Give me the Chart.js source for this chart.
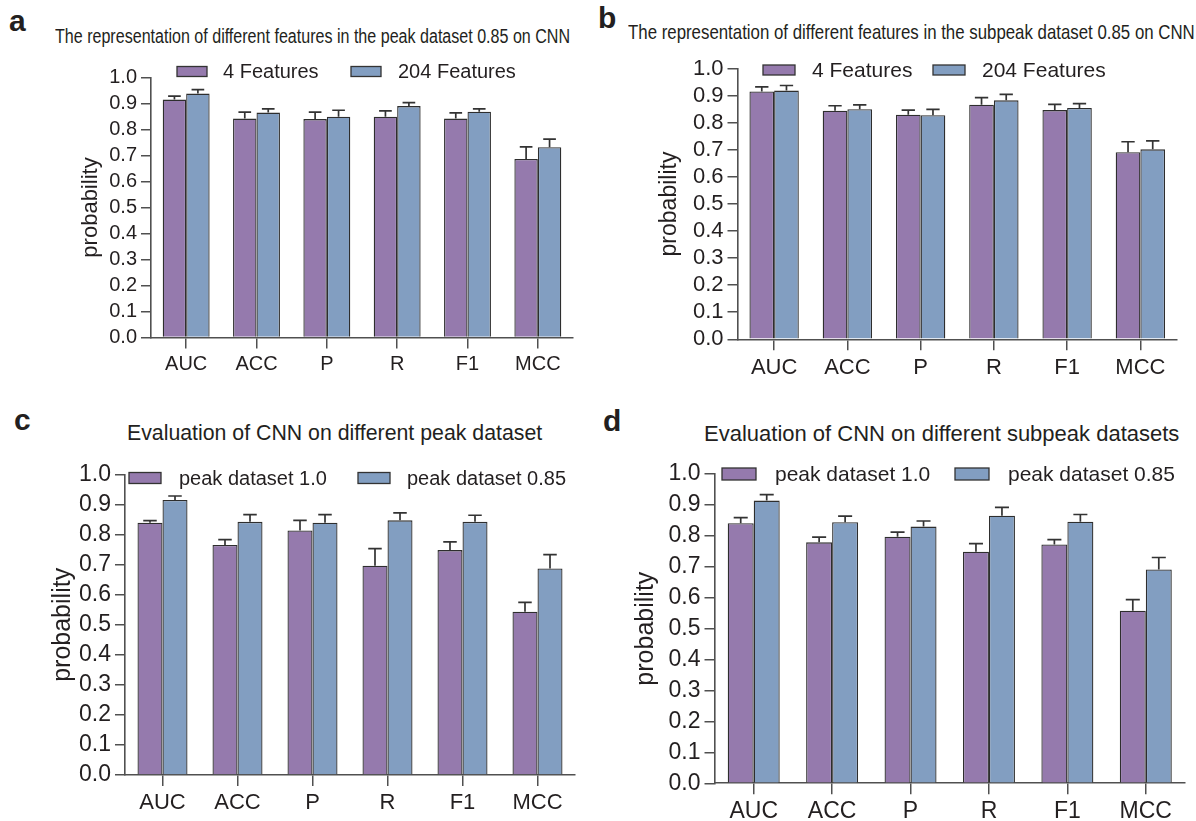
<!DOCTYPE html>
<html>
<head>
<meta charset="utf-8">
<script src="https://cdn.jsdelivr.net/npm/chart.js@4.4.1/dist/chart.umd.min.js"></script>
<style>
  body { margin:0; background:#fff; width:1196px; height:821px; position:relative; overflow:hidden;
         font-family:"Liberation Sans", Arial, sans-serif; color:#231f20; }
  canvas { position:absolute; }
  .lab { position:absolute; font-weight:bold; line-height:1; }
  .ttl { position:absolute; white-space:nowrap; line-height:1; transform-origin:left top; }
</style>
</head>
<body>
<div class="lab" style="left:9px;top:6px;font-size:30px">a</div>
<div class="ttl" style="left:55px;top:27px;font-size:19.6px;transform:scaleX(0.82)">The representation of different features in the peak dataset 0.85 on CNN</div>
<div class="lab" style="left:598px;top:3px;font-size:30px">b</div>
<div class="ttl" style="left:628px;top:22px;font-size:20.3px;transform:scaleX(0.83)">The representation of different features in the subpeak dataset 0.85 on CNN</div>
<div class="lab" style="left:14px;top:405px;font-size:30px">c</div>
<div class="ttl" style="left:127px;top:423px;font-size:21.3px">Evaluation of CNN on different peak dataset</div>
<div class="lab" style="left:603px;top:406px;font-size:30px">d</div>
<div class="ttl" style="left:704px;top:423px;font-size:22px">Evaluation of CNN on different subpeak datasets</div>

<canvas id="ca"></canvas>
<canvas id="cb"></canvas>
<canvas id="cc"></canvas>
<canvas id="cd"></canvas>

<script>
// metrics on the x axis
const categories = ['AUC', 'ACC', 'P', 'R', 'F1', 'MCC'];
const yTicks = [0, 0.1, 0.2, 0.3, 0.4, 0.5, 0.6, 0.7, 0.8, 0.9, 1.0];

// a: peak dataset 0.85, 4 vs 204 features
const peakFeat4 = [0.915, 0.842, 0.840, 0.849, 0.842, 0.687];
const peakFeat4Sd = [0.013, 0.025, 0.027, 0.023, 0.022, 0.046];
const peakFeat204 = [0.938, 0.865, 0.849, 0.890, 0.868, 0.732];
const peakFeat204Sd = [0.015, 0.014, 0.025, 0.013, 0.011, 0.031];

// b: subpeak dataset 0.85, 4 vs 204 features
const subFeat4 = [0.916, 0.845, 0.830, 0.867, 0.847, 0.691];
const subFeat4Sd = [0.017, 0.018, 0.017, 0.026, 0.021, 0.039];
const subFeat204 = [0.919, 0.850, 0.828, 0.883, 0.855, 0.702];
const subFeat204Sd = [0.019, 0.016, 0.022, 0.022, 0.016, 0.031];

// c: CNN on peak datasets
const peakDs10 = [0.840, 0.766, 0.814, 0.697, 0.749, 0.544];
const peakDs10Sd = [0.007, 0.018, 0.034, 0.057, 0.027, 0.031];
const peakDs085 = [0.916, 0.843, 0.840, 0.848, 0.843, 0.688];
const peakDs085Sd = [0.013, 0.024, 0.027, 0.025, 0.022, 0.046];

// d: CNN on subpeak datasets
const subDs10 = [0.841, 0.779, 0.797, 0.749, 0.772, 0.558];
const subDs10Sd = [0.018, 0.017, 0.015, 0.026, 0.016, 0.036];
const subDs085 = [0.914, 0.844, 0.830, 0.865, 0.846, 0.691];
const subDs085Sd = [0.019, 0.020, 0.018, 0.027, 0.023, 0.039];

const PURPLE = '#957aad';
const BLUE = '#829ec1';
const INK = '#231f20';
const AXIS = '#505050';
const FONT = '"Liberation Sans", Arial, sans-serif';

// upward-only error bars, like the prism style plots
const errorBars = {
  id: 'errorBars',
  afterDatasetsDraw(chart) {
    const ctx = chart.ctx;
    const y = chart.scales.y;
    chart.data.datasets.forEach((ds, di) => {
      chart.getDatasetMeta(di).data.forEach((bar, i) => {
        const top = y.getPixelForValue(ds.data[i] + ds.sd[i]);
        const half = bar.width * 0.27;
        ctx.save();
        ctx.strokeStyle = '#333';
        ctx.lineWidth = 1.7;
        ctx.beginPath();
        ctx.moveTo(bar.x, bar.y);
        ctx.lineTo(bar.x, top);
        ctx.moveTo(bar.x - half, top);
        ctx.lineTo(bar.x + half, top);
        ctx.stroke();
        ctx.restore();
      });
    });
  }
};

// legend that sits on top of the plot, drawn from dataset labels/colours
const boxLegend = {
  id: 'boxLegend',
  afterDraw(chart, args, o) {
    const ctx = chart.ctx;
    ctx.save();
    ctx.font = o.fontSize + 'px ' + FONT;
    ctx.textBaseline = 'middle';
    chart.data.datasets.forEach((ds, i) => {
      const bx = o.boxX[i];
      ctx.fillStyle = ds.backgroundColor;
      ctx.fillRect(bx, o.y - o.boxH / 2, o.boxW, o.boxH);
      ctx.strokeStyle = '#333';
      ctx.lineWidth = 1.3;
      ctx.strokeRect(bx, o.y - o.boxH / 2, o.boxW, o.boxH);
      ctx.fillStyle = INK;
      ctx.fillText(ds.label, o.textX[i], o.y + 1);
    });
    ctx.restore();
  }
};

function panel(id, g, s1, s2) {
  const cv = document.getElementById(id);
  cv.width = g.cw; cv.height = g.ch;
  cv.style.left = g.cx + 'px'; cv.style.top = g.cy + 'px';
  cv.style.width = g.cw + 'px'; cv.style.height = g.ch + 'px';
  const titleLH = g.titleFont * 1.2;
  const scaleLeft = g.yTitleX - 4 - titleLH / 2;
  const yWidth = g.axisL - scaleLeft;
  const xHeight = 48;
  new Chart(cv, {
    type: 'bar',
    data: {
      labels: categories,
      datasets: [
        { label: s1.label, data: s1.data, sd: s1.sd, backgroundColor: PURPLE, borderColor: '#2e2e2e', borderWidth: 1.3 },
        { label: s2.label, data: s2.data, sd: s2.sd, backgroundColor: BLUE, borderColor: '#2e2e2e', borderWidth: 1.3 }
      ]
    },
    options: {
      responsive: false,
      animation: false,
      devicePixelRatio: 1,
      categoryPercentage: g.catPct,
      barPercentage: 1.0,
      layout: {
        padding: {
          left: scaleLeft - g.cx,
          top: g.axisT - g.cy,
          right: g.cx + g.cw - g.axisR,
          bottom: g.cy + g.ch - g.axisB - xHeight
        }
      },
      plugins: {
        legend: { display: false },
        tooltip: { enabled: false },
        boxLegend: {
          y: g.leg.y - g.cy,
          boxX: g.leg.boxX.map(v => v - g.cx),
          textX: g.leg.textX.map(v => v - g.cx),
          boxW: g.leg.boxW, boxH: g.leg.boxH, fontSize: g.leg.font
        }
      },
      scales: {
        x: {
          offset: true,
          afterFit(s) { s.height = xHeight; },
          grid: { display: true, drawOnChartArea: false, offset: false, tickLength: 11, color: AXIS, lineWidth: 1.5 },
          border: { display: true, color: AXIS, width: 1.6 },
          ticks: { color: INK, padding: 4, autoSkip: false, maxRotation: 0, font: { family: FONT, size: g.xFont } }
        },
        y: {
          min: 0, max: 1,
          afterFit(s) { s.width = yWidth; },
          afterBuildTicks(s) { s.ticks = yTicks.map(v => ({ value: v })); },
          grid: { display: true, drawOnChartArea: false, tickLength: 10, color: AXIS, lineWidth: 1.5 },
          border: { display: true, color: AXIS, width: 1.6 },
          ticks: { color: INK, padding: 4, autoSkip: false, font: { family: FONT, size: g.yFont }, callback: v => v.toFixed(1) },
          title: { display: true, text: 'probability', color: INK, padding: 4, font: { family: FONT, size: g.titleFont } }
        }
      }
    },
    plugins: [errorBars, boxLegend]
  });
}

panel('ca',
  { cx: 0, cy: 50, cw: 598, ch: 345, axisL: 151, axisR: 573, axisT: 77.5, axisB: 337.5,
    yTitleX: 91, titleFont: 22, yFont: 20, xFont: 20, catPct: 0.667,
    leg: { y: 71.5, boxX: [177, 351], textX: [223, 398], boxW: 30, boxH: 10, font: 20 } },
  { label: '4 Features', data: peakFeat4, sd: peakFeat4Sd },
  { label: '204 Features', data: peakFeat204, sd: peakFeat204Sd });

panel('cb',
  { cx: 598, cy: 50, cw: 598, ch: 345, axisL: 737.5, axisR: 1177, axisT: 68.7, axisB: 339.3,
    yTitleX: 670, titleFont: 23, yFont: 22, xFont: 22, catPct: 0.674,
    leg: { y: 70, boxX: [763, 933], textX: [812, 982], boxW: 32, boxH: 10, font: 21 } },
  { label: '4 Features', data: subFeat4, sd: subFeat4Sd },
  { label: '204 Features', data: subFeat204, sd: subFeat204Sd });

panel('cc',
  { cx: 0, cy: 455, cw: 598, ch: 366, axisL: 125, axisR: 575, axisT: 474.7, axisB: 775,
    yTitleX: 63, titleFont: 25, yFont: 23, xFont: 22, catPct: 0.667,
    leg: { y: 478, boxX: [129, 358], textX: [179, 407], boxW: 32, boxH: 11, font: 20 } },
  { label: 'peak dataset 1.0', data: peakDs10, sd: peakDs10Sd },
  { label: 'peak dataset 0.85', data: peakDs085, sd: peakDs085Sd });

panel('cd',
  { cx: 598, cy: 455, cw: 598, ch: 366, axisL: 714.5, axisR: 1185, axisT: 474, axisB: 783.3,
    yTitleX: 646, titleFont: 25, yFont: 23, xFont: 23, catPct: 0.663,
    leg: { y: 474, boxX: [722, 955], textX: [775, 1008], boxW: 34, boxH: 12, font: 21 } },
  { label: 'peak dataset 1.0', data: subDs10, sd: subDs10Sd },
  { label: 'peak dataset 0.85', data: subDs085, sd: subDs085Sd });
</script>
</body>
</html>
